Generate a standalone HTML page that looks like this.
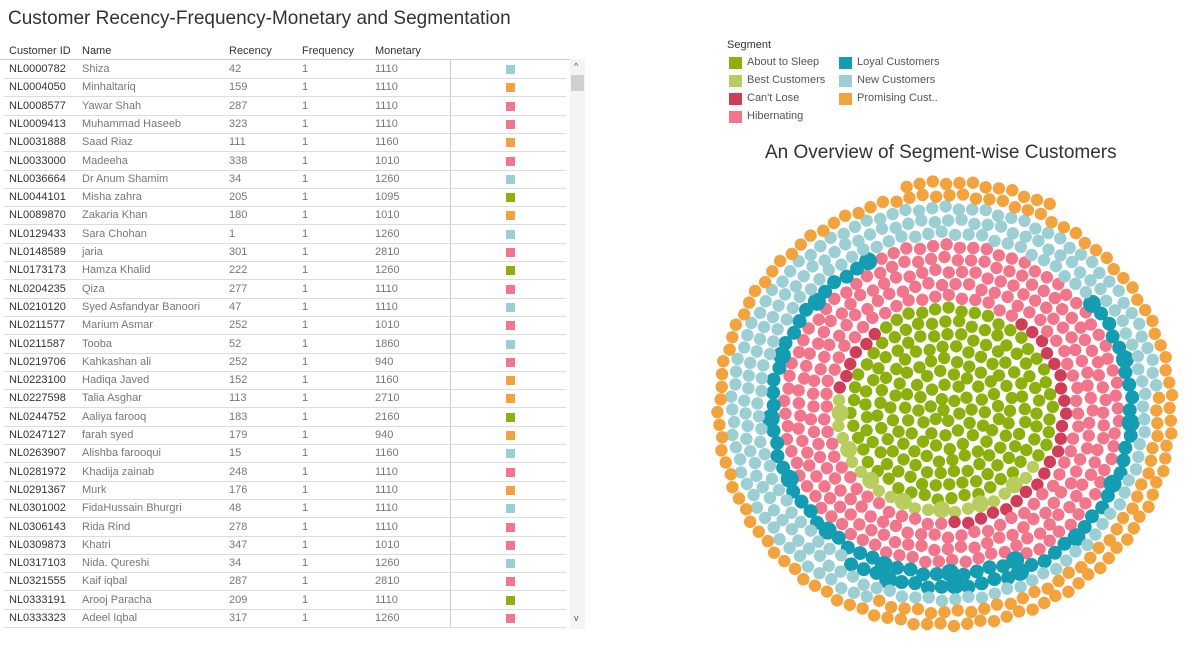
<!DOCTYPE html>
<html><head><meta charset="utf-8">
<style>
body{margin:0;width:1200px;height:663px;background:#fff;font-family:"Liberation Sans",sans-serif;overflow:hidden;position:relative}
.t{position:absolute;white-space:nowrap}
#title{left:8px;top:8px;font-size:19px;color:#333}
.hd{font-size:11px;color:#333;top:45px}
.row{position:absolute;left:4px;width:562px;height:18px;border-bottom:1px solid #dcdcdc;font-size:11px;line-height:18px}
.row span{position:absolute}
.id{left:5px;color:#333}.nm{left:78px;color:#777}.rc{left:225px;color:#777}.fq{left:298px;color:#777}.mn{left:371px;color:#777}
.sq{left:502px;top:5px;width:9px;height:9px}
#legend .li{position:absolute;font-size:11px;color:#555}
#legend .sw{position:absolute;width:13px;height:12px}
</style></head><body>
<div class="t" id="title">Customer Recency-Frequency-Monetary and Segmentation</div>
<div class="t hd" style="left:9px">Customer ID</div>
<div class="t hd" style="left:82px">Name</div>
<div class="t hd" style="left:229px">Recency</div>
<div class="t hd" style="left:302px">Frequency</div>
<div class="t hd" style="left:375px">Monetary</div>
<div id="table" style="position:absolute;left:0;top:59px;width:570px;height:570px;border-top:1px solid #ccc">
<div style="position:absolute;left:450px;top:0;width:1px;height:567px;background:#ccc"></div>
</div>
<div style="position:absolute;left:570px;top:59px;width:15px;height:570px;background:#f4f4f4">
<div style="position:absolute;left:1px;top:16px;width:13px;height:16px;background:#cfcfcf"></div>
<div style="position:absolute;left:4px;top:2px;font-size:9px;color:#555">^</div>
<div style="position:absolute;left:4px;top:554px;font-size:9px;color:#555">v</div>
</div>
<div id="legend">
<div class="t" style="left:727px;top:39px;font-size:11px;color:#333">Segment</div>
</div>
<div class="t" style="left:765px;top:142px;font-size:19px;color:#333">An Overview of Segment-wise Customers</div>
<svg id="chart" width="1200" height="663" style="position:absolute;left:0;top:0"></svg>
<script>
const rowIds=["NL0000782","NL0004050","NL0008577","NL0009413","NL0031888","NL0033000","NL0036664","NL0044101","NL0089870","NL0129433","NL0148589","NL0173173","NL0204235","NL0210120","NL0211577","NL0211587","NL0219706","NL0223100","NL0227598","NL0244752","NL0247127","NL0263907","NL0281972","NL0291367","NL0301002","NL0306143","NL0309873","NL0317103","NL0321555","NL0333191","NL0333323"];
const rowNames=["Shiza","Minhaltariq","Yawar Shah","Muhammad Haseeb","Saad Riaz","Madeeha","Dr Anum Shamim","Misha zahra","Zakaria Khan","Sara Chohan","jaria","Hamza Khalid","Qiza","Syed Asfandyar Banoori","Marium Asmar","Tooba","Kahkashan ali","Hadiqa Javed","Talia Asghar","Aaliya farooq","farah syed","Alishba farooqui","Khadija zainab","Murk","FidaHussain Bhurgri","Rida Rind","Khatri","Nida. Qureshi","Kaif iqbal","Arooj Paracha","Adeel Iqbal"];
const rowRecency=[42,159,287,323,111,338,34,205,180,1,301,222,277,47,252,52,252,152,113,183,179,15,248,176,48,278,347,34,287,209,317];
const rowMonetary=[1110,1110,1110,1110,1160,1010,1260,1095,1010,1260,2810,1260,1110,1110,1010,1860,940,1160,2710,2160,940,1160,1110,1110,1110,1110,1010,1260,2810,1110,1260];
const rowSegment=[5,6,3,3,6,3,5,0,6,5,3,0,3,5,3,5,3,6,6,0,6,5,3,6,5,3,3,5,3,0,3];
const segNames=["About to Sleep","Best Customers","Can't Lose","Hibernating","Loyal Customers","New Customers","Promising Cust.."];
const segColors=["#8cb10f","#b9cd5e","#d03d58","#f1758b","#149db2","#9ccfd3","#f2a33e"];
const segCounts=[195,22,28,280,80,210,150];

const table=document.getElementById('table');
rowIds.forEach((id,i)=>{
  const r=document.createElement('div');
  r.className='row';
  r.style.top=(i*18.3)+'px';
  
  
  r.innerHTML='<span class="id">'+id+'</span><span class="nm">'+rowNames[i]+'</span><span class="rc">'+rowRecency[i]+'</span><span class="fq">1</span><span class="mn">'+rowMonetary[i]+'</span><span class="sq" style="background:'+segColors[rowSegment[i]]+'"></span>';
  table.appendChild(r);
});

const legend=document.getElementById('legend');
const legPos=[[729,57],[729,75],[729,93],[729,111],[839,57],[839,75],[839,93]];
segNames.forEach((n,i)=>{
  const sw=document.createElement('div');
  sw.className='sw';
  sw.style.left=legPos[i][0]+'px';sw.style.top=legPos[i][1]+'px';sw.style.background=segColors[i];
  
  
  legend.appendChild(sw);
  const t=document.createElement('div');
  t.className='li';
  t.style.left=(legPos[i][0]+18)+'px';t.style.top=(legPos[i][1]-1)+'px';t.textContent=n;
  
  
  legend.appendChild(t);
});

const svg=document.getElementById('chart');
const cx=945,cy=410,sp=13.3,sy=0.95;
let items=[];
segCounts.forEach((c,s)=>{for(let k=0;k<c;k++)items.push(s);});
let idx=0,ring=0;
while(idx<items.length){
  const n=ring===0?1:Math.floor(2*Math.PI*ring);
  const off=ring*1.3;
  for(let j=0;j<n&&idx<items.length;j++){
    const a=off+2*Math.PI*j/n;
    const R=ring*sp+((j%3)-1)*1.5;
    const s=items[idx];
    const c=document.createElementNS('http://www.w3.org/2000/svg','circle');
    c.setAttribute('cx',cx+R*Math.cos(a));
    c.setAttribute('cy',cy+R*Math.sin(a)*sy);
    c.setAttribute('r',s===4?(j%5===0?9:7):(s===1&&j%3===0?8.5:6.2));
    c.setAttribute('fill',segColors[s]);
    
    
    svg.appendChild(c);
    idx++;
  }
  ring++;
}
</script>
</body></html>
